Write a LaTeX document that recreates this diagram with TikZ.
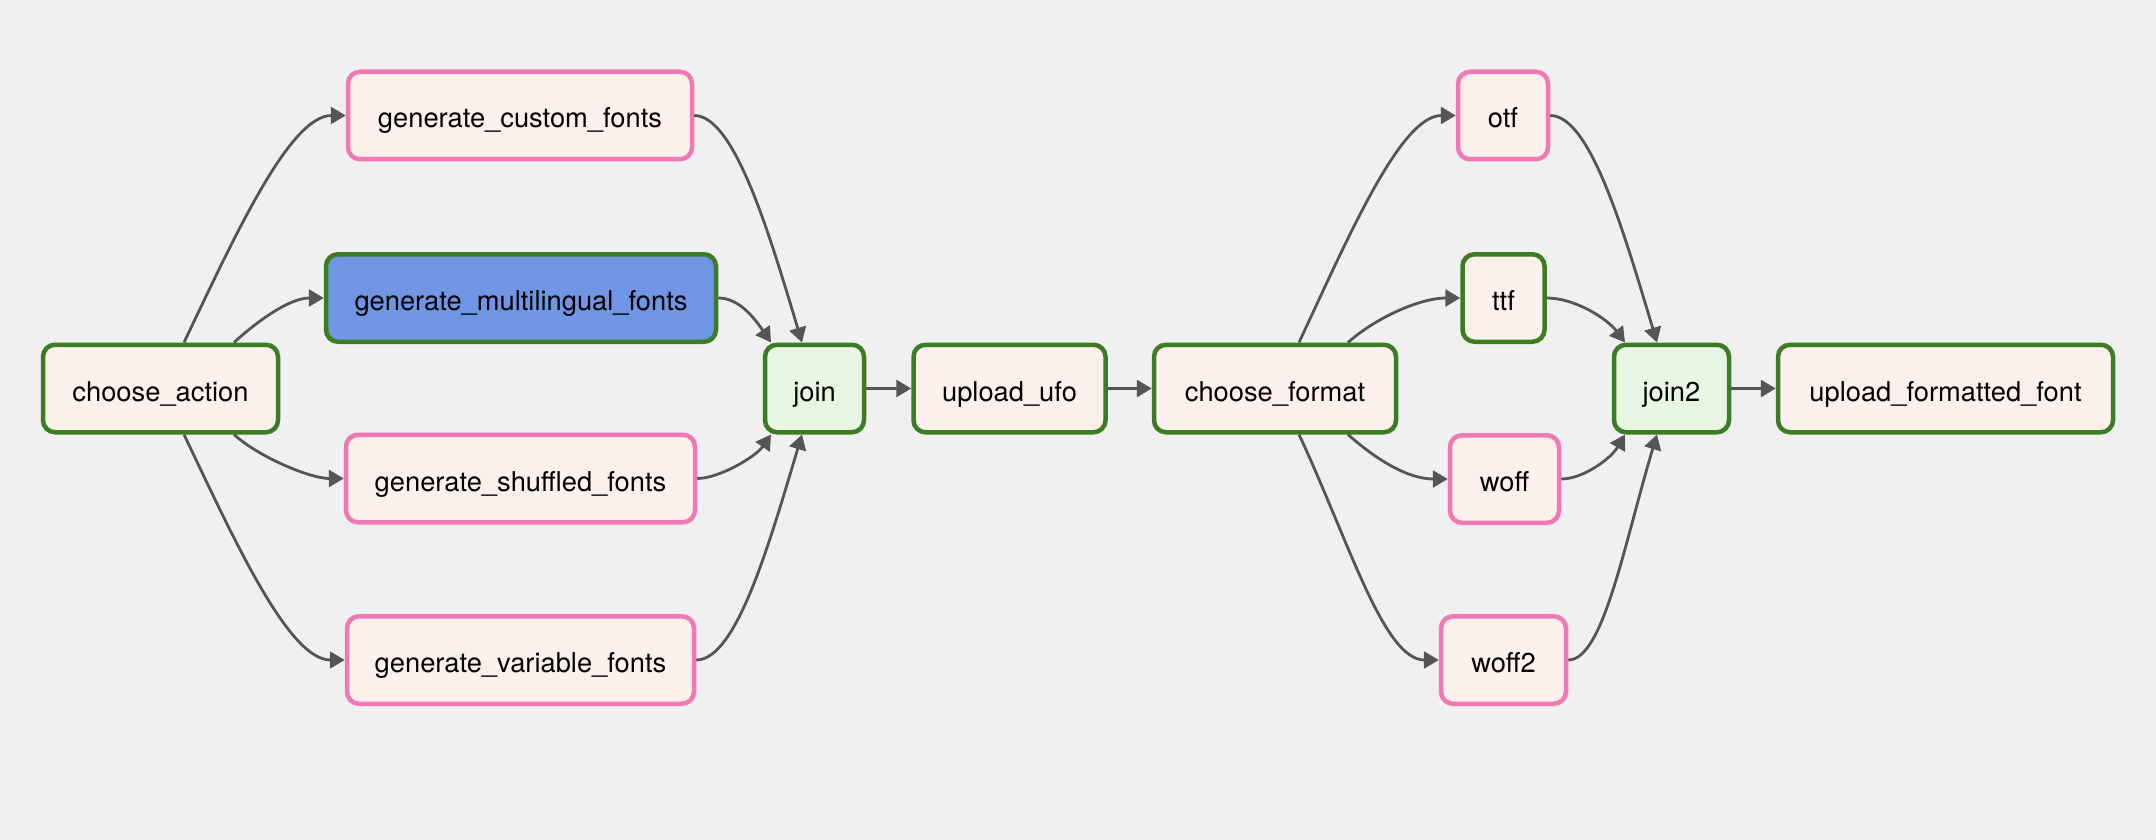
\documentclass[tikz,border=0pt]{standalone}
\usepackage{fontspec}
\setmainfont{TeX Gyre Heros}
\usetikzlibrary{arrows.meta}
\definecolor{bgcol}{HTML}{F0F0F0}
\definecolor{okgreen}{HTML}{3B7D23}
\definecolor{skippink}{HTML}{F078B4}
\definecolor{taskfill}{HTML}{FBF0EC}
\definecolor{joinfill}{HTML}{E9F5E3}
\definecolor{bluefill}{HTML}{6F95E5}
\definecolor{edgecol}{HTML}{555555}
\begin{document}
\begin{tikzpicture}[x=1pt,y=-1pt,
  task/.style={draw=okgreen, fill=taskfill, line width=4.5pt, rounded corners=12pt,
    minimum height=87.5pt, inner sep=0pt, text height=25pt, text depth=0pt,
    font=\fontsize{27.3}{30}\selectfont, text=black},
  skipped/.style={task, draw=skippink},
  joinbox/.style={task, fill=joinfill},
  bluebox/.style={task, fill=bluefill},
  edge/.style={draw=edgecol, line width=2.8pt, -{Triangle[length=15pt,width=17pt]}}
]
\fill[bgcol] (0,0) rectangle (2156,840);
\useasboundingbox (0,0) rectangle (2156,840);

% nodes
\node[task, minimum width=235pt] (ca) at (160.5,388.5) {choose\_action};
\node[skipped, minimum width=344pt] (gcf) at (520,115.5) {generate\_custom\_fonts};
\node[bluebox, minimum width=390pt] (gml) at (521,298) {generate\_multilingual\_fonts};
\node[skipped, minimum width=349pt] (gsf) at (520.5,478.5) {generate\_shuffled\_fonts};
\node[skipped, minimum width=347pt] (gvf) at (520.5,660) {generate\_variable\_fonts};
\node[joinbox, minimum width=99pt] (join) at (814.5,388.5) {join};
\node[task, minimum width=192pt] (ufo) at (1009.5,388.5) {upload\_ufo};
\node[task, minimum width=242pt] (cf) at (1275,388.5) {choose\_format};
\node[skipped, minimum width=90pt] (otf) at (1503,115.5) {otf};
\node[task, minimum width=82pt] (ttf) at (1503.5,298) {ttf};
\node[skipped, minimum width=109pt] (woff) at (1504.5,479) {woff};
\node[skipped, minimum width=125pt] (woff2) at (1503.5,660) {woff2};
\node[joinbox, minimum width=115pt] (join2) at (1671.5,388.5) {join2};
\node[task, minimum width=335pt] (uff) at (1945.5,388.5) {upload\_formatted\_font};

% edges from choose_action
\draw[edge] ([xshift=23.5pt]ca.north) .. controls +(51,-107) and +(-56,0) .. (gcf.west);
\draw[edge] ([xshift=73.5pt]ca.north) .. controls +(24,-22) and +(-34,0) .. (gml.west);
\draw[edge] ([xshift=73.5pt]ca.south) .. controls +(24,22) and +(-34,0) .. (gsf.west);
\draw[edge] ([xshift=23.5pt]ca.south) .. controls +(51,107) and +(-56,0) .. (gvf.west);

% edges into join
\draw[edge] (gcf.east) .. controls +(40,0) and +(-33,-110) .. ([xshift=-12.5pt]join.north);
\draw[edge] (gml.east) .. controls +(22,0) and +(-15,-22) .. ([xshift=-43.5pt]join.north);
\draw[edge] (gsf.east) .. controls +(22,0) and +(-15,22) .. ([xshift=-43.5pt]join.south);
\draw[edge] (gvf.east) .. controls +(40,0) and +(-33,110) .. ([xshift=-12.5pt]join.south);

% main chain
\draw[edge] (join) -- (ufo);
\draw[edge] (ufo) -- (cf);

% edges from choose_format
\draw[edge] ([xshift=24pt]cf.north) .. controls +(50,-107) and +(-55,0) .. (otf.west);
\draw[edge] ([xshift=73pt]cf.north) .. controls +(28,-25) and +(-40,0) .. (ttf.west);
\draw[edge] ([xshift=73pt]cf.south) .. controls +(28,25) and +(-40,0) .. (woff.west);
\draw[edge] ([xshift=24pt]cf.south) .. controls +(50,107) and +(-55,0) .. (woff2.west);

% edges into join2
\draw[edge] (otf.east) .. controls +(40,0) and +(-33,-110) .. ([xshift=-14.5pt]join2.north);
\draw[edge] (ttf.east) .. controls +(28,0) and +(-18,-24) .. ([xshift=-46.5pt]join2.north);
\draw[edge] (woff.east) .. controls +(22,0) and +(-14,24) .. ([xshift=-46.5pt]join2.south);
\draw[edge] (woff2.east) .. controls +(35,0) and +(-33,110) .. ([xshift=-14.5pt]join2.south);

\draw[edge] (join2) -- (uff);
\end{tikzpicture}
\end{document}
